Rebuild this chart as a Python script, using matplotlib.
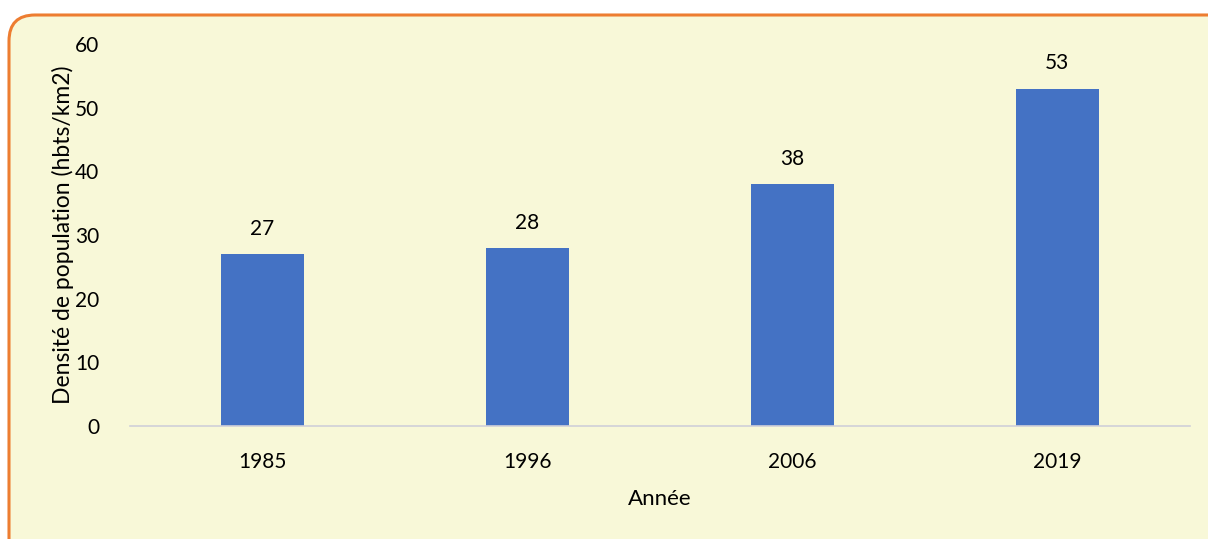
import matplotlib
matplotlib.use("Agg")
import matplotlib.pyplot as plt
from matplotlib.patches import FancyBboxPatch
from matplotlib.transforms import IdentityTransform

years = ["1985", "1996", "2006", "2019"]
density = [27, 28, 38, 53]
yticks = [0, 10, 20, 30, 40, 50, 60]

BG = "#F8F8D8"
BAR = "#4472C4"
BORDER = "#ED7D31"

plt.rcParams['font.family'] = ['Lato', 'DejaVu Sans']

fig = plt.figure(figsize=[12.08, 5.39], dpi=100)
fig.patch.set_facecolor("white")

# rounded frame, in pixels
box = FancyBboxPatch((9, -40), 1240, 564, boxstyle="round,pad=0,rounding_size=26",
                     transform=IdentityTransform(), facecolor=BG, edgecolor=BORDER,
                     linewidth=2.2, zorder=-1)
fig.patches.append(box)

ax = fig.add_axes([0.1076, 0.2096, 0.985 - 0.1076, 0.918 - 0.2096], zorder=1)
ax.set_facecolor("none")

x = range(len(years))
ax.bar(x, density, width=0.315, color=BAR, zorder=2)
for i, v in zip(x, density):
    ax.annotate(str(v), (i, v), xytext=(0, 11), textcoords="offset points",
                ha="center", va="bottom", fontsize=15)

ax.set_xlim(-0.5, 3.5)
ax.set_ylim(0, 60)
ax.set_yticks(yticks)
ax.set_xticks(list(x))
ax.set_xticklabels(years)
ax.tick_params(axis="both", length=0, labelsize=15)
ax.tick_params(axis="x", pad=19)
ax.tick_params(axis="y", pad=22)

for s in ["top", "right", "left"]:
    ax.spines[s].set_visible(False)
ax.spines["bottom"].set_color("#D0D0D8")
ax.spines["bottom"].set_linewidth(1.2)

ax.set_xlabel("Année", fontsize=16, labelpad=12)
ax.set_ylabel("Densité de population (hbts/km2)", fontsize=16.5, labelpad=1)

fig.savefig("out.png", dpi=100)
